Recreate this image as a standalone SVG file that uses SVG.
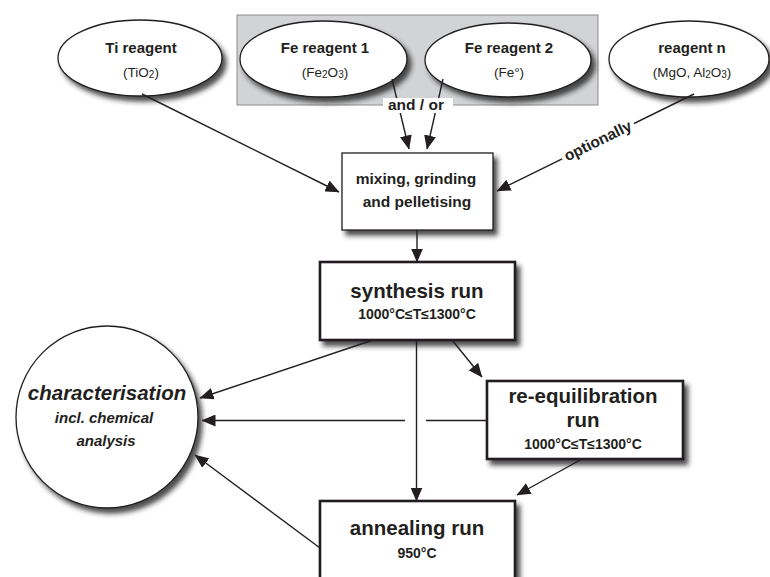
<svg xmlns="http://www.w3.org/2000/svg" width="770" height="577" viewBox="0 0 770 577">
<style>
text{font-family:"Liberation Sans",Arial,Helvetica,sans-serif;fill:#231f20;text-anchor:middle}
.b{font-weight:bold}
.sub{font-size:10px}
.node{fill:#fff;stroke:#231f20;stroke-width:1.3}
.thick{stroke-width:2.6}
.conn line,.conn path{stroke:#231f20;stroke-width:1.4;fill:none}
.ar{marker-end:url(#arr)}
</style>
<defs>
<filter id="sh" x="-20%" y="-20%" width="150%" height="150%">
<feDropShadow dx="4" dy="5" stdDeviation="2.8" flood-color="#222" flood-opacity="0.8"/>
</filter>
<marker id="arr" markerUnits="userSpaceOnUse" markerWidth="14" markerHeight="12" refX="13.5" refY="6" orient="auto" viewBox="0 0 14 12">
<path d="M0,0 L14,6 L0,12 z" fill="#231f20"/>
</marker>
</defs>
<rect x="237" y="15" width="361" height="90" fill="#d1d3d4" stroke="#8a8c8e" stroke-width="1"/>
<g id="ti">
<ellipse class="node" cx="140" cy="58" rx="82" ry="38" filter="url(#sh)"/>
<text x="141" y="53" class="b" font-size="15">Ti reagent</text>
<text x="141" y="77" font-size="13.5">(TiO<tspan class="sub" dy="1">2</tspan><tspan dy="-1">)</tspan></text>
</g>
<g id="fe1">
<ellipse class="node" cx="323.5" cy="59" rx="83.5" ry="38" filter="url(#sh)"/>
<text x="325" y="53" class="b" font-size="15">Fe reagent 1</text>
<text x="325" y="77" font-size="13.5">(Fe<tspan class="sub" dy="1">2</tspan><tspan dy="-1">O</tspan><tspan class="sub" dy="1">3</tspan><tspan dy="-1">)</tspan></text>
</g>
<g id="fe2">
<ellipse class="node" cx="508" cy="60" rx="83" ry="37" filter="url(#sh)"/>
<text x="509" y="53" class="b" font-size="15">Fe reagent 2</text>
<text x="509" y="77" font-size="13.5">(Fe°)</text>
</g>
<g id="rn">
<ellipse class="node" cx="689" cy="59" rx="80" ry="38" filter="url(#sh)"/>
<text x="692" y="53" class="b" font-size="15">reagent n</text>
<text x="692" y="77" font-size="13.5">(MgO, Al<tspan class="sub" dy="1">2</tspan><tspan dy="-1">O</tspan><tspan class="sub" dy="1">3</tspan><tspan dy="-1">)</tspan></text>
</g>
<g id="mix">
<rect class="node" x="342" y="153" width="151" height="77" filter="url(#sh)"/>
<text x="416" y="184" class="b" font-size="15.5">mixing, grinding</text>
<text x="417" y="207" class="b" font-size="15.5">and pelletising</text>
</g>
<g id="syn">
<rect class="node thick" x="320" y="262" width="195" height="78" filter="url(#sh)"/>
<text x="417" y="298" class="b" font-size="20.5">synthesis run</text>
<text x="417" y="319" class="b" font-size="14">1000°C≤T≤1300°C</text>
</g>
<g id="req">
<rect class="node thick" x="487" y="381" width="196" height="78" filter="url(#sh)"/>
<text x="583" y="403" class="b" font-size="20.5">re-equilibration</text>
<text x="583" y="427" class="b" font-size="20.5">run</text>
<text x="583" y="449" class="b" font-size="14">1000°C≤T≤1300°C</text>
</g>
<g id="ann">
<rect class="node thick" x="320" y="501" width="195" height="100" filter="url(#sh)"/>
<text x="417" y="535" class="b" font-size="20.5">annealing run</text>
<text x="417" y="558" class="b" font-size="14">950°C</text>
</g>
<g id="char">
<circle class="node" cx="107" cy="417" r="91" filter="url(#sh)"/>
<text x="107" y="400" class="b" font-size="20.5" font-style="italic">characterisation</text>
<text x="104" y="423" class="b" font-size="15" font-style="italic">incl. chemical</text>
<text x="106" y="446" class="b" font-size="15" font-style="italic">analysis</text>
</g>
<g id="connectors" class="conn">
<line class="ar" x1="142" y1="94" x2="339" y2="192"/>
<line class="ar" x1="392" y1="79" x2="409" y2="149"/>
<line class="ar" x1="443" y1="79" x2="427" y2="149"/>
<line class="ar" x1="694" y1="94" x2="497" y2="191"/>
<line class="ar" x1="417" y1="230" x2="417" y2="262"/>
<line class="ar" x1="373" y1="340" x2="200" y2="398"/>
<line x1="487" y1="420.5" x2="426" y2="420.5"/>
<line class="ar" x1="405" y1="420.5" x2="202" y2="420.5"/>
<line class="ar" x1="416.5" y1="340" x2="416.5" y2="501"/>
<line class="ar" x1="452" y1="340" x2="482" y2="377"/>
<line class="ar" x1="582" y1="459" x2="517" y2="495"/>
<line class="ar" x1="320" y1="548" x2="195" y2="455"/>
</g>
<g id="lbl-andor">
<rect x="383" y="98" width="70" height="15" fill="#fff"/>
<text x="416" y="110" class="b" font-size="15.5">and / or</text>
</g>
<g id="lbl-opt" transform="rotate(-26.1 598 141)">
<rect x="558" y="133" width="80" height="15" fill="#fff"/>
<text x="598" y="146" class="b" font-size="15.5">optionally</text>
</g>
</svg>
